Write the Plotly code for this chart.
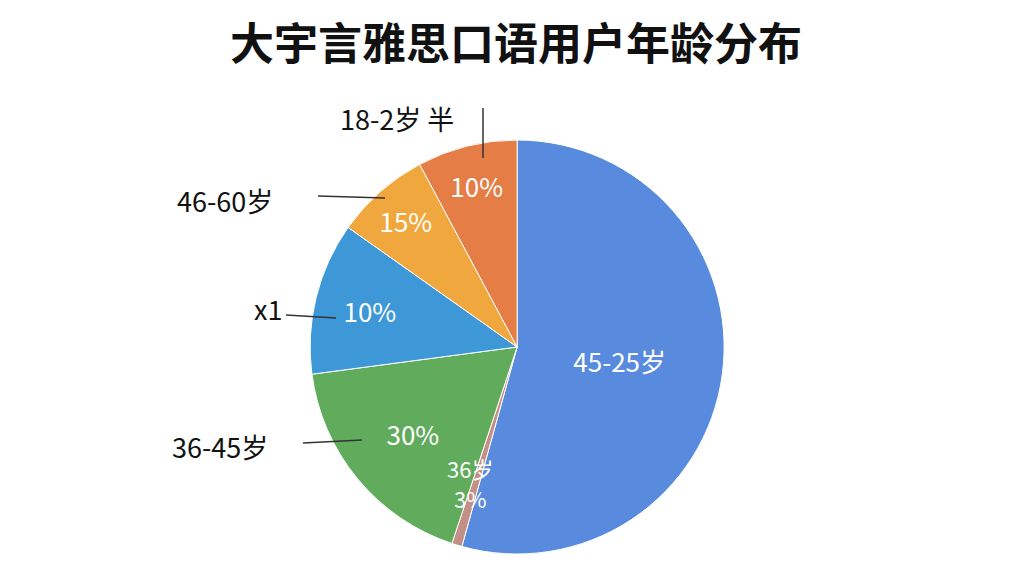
import plotly.graph_objects as go

# slice shares (clockwise from 12 o'clock)
groups = ['45-25岁', '36岁', '36-45岁', 'x1', '46-60岁', '18-2岁 半']
shares = [54.3, 0.8, 17.8, 11.9, 7.4, 7.8]
inside_text = ['45-25岁', '', '30%', '10%', '15%', '10%']
colors = ['#588BDE', '#C48F86', '#60AC5C', '#3E98D8', '#F0A83E', '#E57D46']

# outside labels, as drawn in the reference (pixel spots)
outer_labels = ['18-2岁 半', '46-60岁', 'x1', '36-45岁']
outer_pos = [(397, 118), (225, 200), (268, 308), (220, 446)]
leader_lines = [((483, 108), (483, 158)), ((318, 196), (385, 198)),
                ((286, 315), (336, 318)), ((303, 443), (362, 440))]

# the two-line label sitting on the thin slice
thin_labels = ['36岁', '3%']
thin_pos = [(470, 468), (470, 498)]

W, H = 1024, 576
T, B = 140, 22
font = 'Noto Sans CJK SC'


def px_to_paper(px_, py_):
    return px_ / W, (H - B - py_) / (H - T - B)


fig = go.Figure(go.Pie(
    labels=groups,
    values=shares,
    text=inside_text,
    textinfo='text',
    textposition='inside',
    insidetextorientation='horizontal',
    textfont=dict(family=font, size=26, color='white'),
    marker=dict(colors=colors, line=dict(color='white', width=1)),
    sort=False,
    direction='clockwise',
    rotation=0,
    showlegend=False,
    hoverinfo='label+value',
    domain=dict(x=[0.2, 0.81], y=[0, 1]),
))

anns = []
for txt, (px_, py_) in zip(outer_labels, outer_pos):
    x, y = px_to_paper(px_, py_)
    anns.append(dict(text=txt, x=x, y=y, xref='paper', yref='paper',
                     xanchor='center', yanchor='middle', showarrow=False,
                     font=dict(family=font, size=27, color='#111111')))
for txt, (px_, py_) in zip(thin_labels, thin_pos):
    x, y = px_to_paper(px_, py_)
    anns.append(dict(text=txt, x=x, y=y, xref='paper', yref='paper',
                     xanchor='center', yanchor='middle', showarrow=False,
                     font=dict(family=font, size=22, color='white')))

shapes = []
for p0, p1 in leader_lines:
    x0, y0 = px_to_paper(*p0)
    x1, y1 = px_to_paper(*p1)
    shapes.append(dict(type='line', xref='paper', yref='paper',
                       x0=x0, y0=y0, x1=x1, y1=y1,
                       line=dict(color='#333333', width=1.5)))

fig.update_layout(
    width=W, height=H,
    title=dict(text='<b>大宇言雅思口语用户年龄分布</b>', x=0.504, xanchor='center',
               y=1 - 45 / H, yanchor='middle',
               font=dict(family=font, size=44, color='#111111')),
    margin=dict(l=0, r=0, t=T, b=B),
    paper_bgcolor='white',
    plot_bgcolor='white',
    annotations=anns,
    shapes=shapes,
)

fig.write_html('out.html', config={'displayModeBar': False},
               post_script="document.body.style.margin='0';")
